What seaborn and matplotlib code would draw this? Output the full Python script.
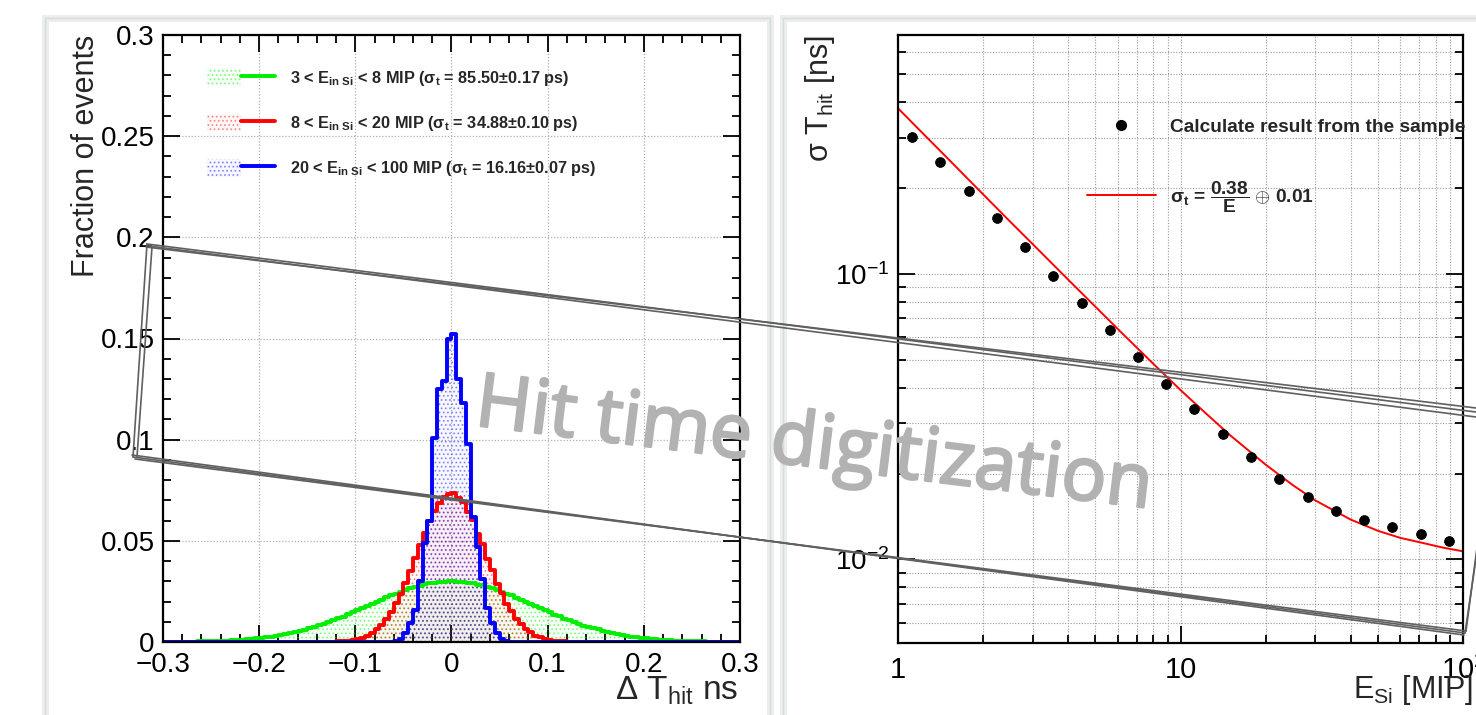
import numpy as np
import pandas as pd
import matplotlib
matplotlib.use("Agg")
import matplotlib.pyplot as plt
import matplotlib.patheffects as pe
import seaborn as sns
from matplotlib.patches import Patch, Rectangle
from matplotlib.lines import Line2D
from matplotlib.legend_handler import HandlerTuple
from matplotlib.ticker import MultipleLocator, FixedLocator, FixedFormatter, LogLocator, NullFormatter

# ---------------- data ----------------
dt_range = (-0.3, 0.3)
dt_bin_width = 0.005

# fraction of events per 0.005 ns bin, left half from -0.2975 to -0.0025, right half from 0.0025 to 0.2975
green_neg = [0, 0, 0, 0.0001, 0.0001, 0.0002, 0.0002, 0.0003, 0.0003, 0.0004,
             0.00045, 0.0005, 0.0006, 0.0007, 0.0009, 0.0010, 0.0012, 0.0014, 0.0016, 0.0018,
             0.0021, 0.0024, 0.0027, 0.0031, 0.0035, 0.0039, 0.0044, 0.0049, 0.0055, 0.0061,
             0.0068, 0.0075, 0.0082, 0.0090, 0.0099, 0.0108, 0.0117, 0.0126, 0.0136, 0.0146,
             0.0157, 0.0167, 0.0178, 0.0188, 0.0199, 0.0209, 0.0220, 0.0230, 0.0239, 0.0248,
             0.0257, 0.0265, 0.0272, 0.0279, 0.0285, 0.0290, 0.0294, 0.0297, 0.0299, 0.0300]
green_pos = [0.0302, 0.0298, 0.0298, 0.0293, 0.0291, 0.0284, 0.0280, 0.0271, 0.0266, 0.0256,
             0.0249, 0.0238, 0.0231, 0.0219, 0.0210, 0.0198, 0.0189, 0.0177, 0.0168, 0.0156,
             0.0147, 0.0135, 0.0127, 0.0116, 0.0109, 0.0098, 0.0091, 0.0081, 0.0076, 0.0067,
             0.0062, 0.0054, 0.0050, 0.0043, 0.0040, 0.0034, 0.0031, 0.0027, 0.0024, 0.0021,
             0.0018, 0.0016, 0.0014, 0.0012, 0.0010, 0.0009, 0.0007, 0.0006, 0.0005, 0.00045,
             0.0004, 0.0003, 0.0003, 0.0002, 0.0002, 0.0001, 0.0001, 0, 0, 0]
red_neg = [0] * 34 + [0.0001, 0.0002, 0.0003, 0.0004, 0.0007, 0.0010, 0.0015, 0.0022, 0.0032, 0.0046,
                      0.0063, 0.0086, 0.0114, 0.0149, 0.0191, 0.0239, 0.0293, 0.0352, 0.0414, 0.0478,
                      0.0540, 0.0598, 0.0649, 0.0689, 0.0718, 0.0733]
red_pos = [0.0738, 0.0712, 0.0693, 0.0644, 0.0602, 0.0535, 0.0482, 0.0410, 0.0356, 0.0289,
           0.0242, 0.0188, 0.0151, 0.0112, 0.0088, 0.0062, 0.0047, 0.0031, 0.0023, 0.0015,
           0.0010, 0.0007, 0.0004, 0.0003, 0.0002, 0.0001] + [0] * 34
blue_neg = [0] * 47 + [0.0002, 0.0005, 0.0015, 0.0044, 0.0094, 0.0160, 0.0300, 0.0490,
                       0.0600, 0.1010, 0.1250, 0.1290, 0.1500]
blue_pos = [0.1520, 0.1300, 0.1180, 0.0980, 0.0620, 0.0470, 0.0310, 0.0170, 0.0095, 0.0045,
            0.0016, 0.0006, 0.0002] + [0] * 47

series_names = ["3 < E$_{\\mathbf{in\\ Si}}$ < 8 MIP (σ$_{\\mathbf{t}}$ = 85.50±0.17 ps)",
                "8 < E$_{\\mathbf{in\\ Si}}$ < 20 MIP (σ$_{\\mathbf{t}}$ = 34.88±0.10 ps)",
                "20 < E$_{\\mathbf{in\\ Si}}$ < 100 MIP (σ$_{\\mathbf{t}}$ = 16.16±0.07 ps)"]
series_colors = ["#00ee00", "#ff0000", "#0000ff"]

left_xticks = [-0.3, -0.2, -0.1, 0, 0.1, 0.2, 0.3]
left_xticklabels = ["\u22120.3", "\u22120.2", "\u22120.1", "0", "0.1", "0.2", "0.3"]
left_yticks = [0, 0.05, 0.1, 0.15, 0.2, 0.25, 0.3]
left_yticklabels = ["0", "0.05", "0.1", "0.15", "0.2", "0.25", "0.3"]

# right panel: time resolution vs deposited energy
energy_mip = [1.12, 1.41, 1.78, 2.24, 2.82, 3.55, 4.47, 5.62, 7.08, 8.91,
              11.2, 14.1, 17.8, 22.4, 28.2, 35.5, 44.7, 56.2, 70.8, 89.1]
sigma_t_ns = [0.301, 0.246, 0.195, 0.157, 0.124, 0.0984, 0.0792, 0.0637, 0.0513, 0.0412,
              0.0337, 0.0276, 0.0229, 0.0192, 0.0166, 0.0148, 0.0137, 0.0130, 0.0123, 0.0116]
fit_energy = [1, 1.25, 1.5, 2, 2.5, 3, 4, 5, 6, 7, 8, 10, 12, 15, 20, 25, 30, 40, 50, 60, 70, 85, 99]
fit_sigma = [0.380, 0.304, 0.2535, 0.190, 0.152, 0.127, 0.0955, 0.0767, 0.0641, 0.0552, 0.0485,
             0.0392, 0.0332, 0.0272, 0.0215, 0.0182, 0.0161, 0.0138, 0.0126, 0.0119, 0.0115,
             0.0110, 0.0107]
right_xticks = [1, 10, 100]
right_xticklabels = ["1", "10", "$10^{2}$"]

# ---------------- style ----------------
sns.set_theme(style="white")
plt.rcParams["font.family"] = ["Liberation Sans", "DejaVu Sans"]
plt.rcParams["mathtext.fontset"] = "custom"
plt.rcParams["mathtext.rm"] = "Liberation Sans"
plt.rcParams["mathtext.it"] = "Liberation Sans:italic"
plt.rcParams["mathtext.bf"] = "Liberation Sans:bold"
plt.rcParams["hatch.linewidth"] = 0.8

W, H = 1476, 715
fig = plt.figure(figsize=(W / 100, H / 100), dpi=100, facecolor="white")


def fx(px):
    return px / W


def fy(py):
    return 1 - py / H


# slide cards
for x0, x1 in [(45, 770), (783, 1482)]:
    fig.add_artist(Rectangle((fx(x0), -0.05), fx(x1) - fx(x0), fy(18) + 0.05,
                             transform=fig.transFigure, facecolor="white",
                             edgecolor="#eceeee", lw=5, zorder=-20))
    fig.add_artist(Rectangle((fx(x0), -0.05), fx(x1) - fx(x0), fy(18) + 0.05,
                             transform=fig.transFigure, facecolor="none",
                             edgecolor="#d6dada", lw=1.0, zorder=-19))

axL = fig.add_axes([fx(163), fy(642), fx(740) - fx(163), fy(35) - fy(642)])
axR = fig.add_axes([fx(898), fy(643), fx(1463) - fx(898), fy(35) - fy(643)])

# ---------------- left: histograms ----------------
n_bins = int(round((dt_range[1] - dt_range[0]) / dt_bin_width))
centers = dt_range[0] + dt_bin_width * (np.arange(n_bins) + 0.5)
hist_series = [green_neg + green_pos, red_neg + red_pos, blue_neg + blue_pos]

legend_handles = []
for vals, col, name in zip(hist_series, series_colors, series_names):
    df = pd.DataFrame({"dt": centers, "frac": vals})
    n0 = len(axL.collections)
    sns.histplot(data=df, x="dt", weights="frac", binwidth=dt_bin_width, binrange=dt_range,
                 element="step", fill=True, color=col, linewidth=0, ax=axL)
    rgb = matplotlib.colors.to_rgb(col)
    for coll in axL.collections[n0:]:
        coll.set_facecolor((*rgb, 0.03))
        coll.set_edgecolor((*rgb, 0.38))
        coll.set_hatch("....")
        coll.set_linewidth(0)
    sns.histplot(data=df, x="dt", weights="frac", binwidth=dt_bin_width, binrange=dt_range,
                 element="step", fill=False, color=col, linewidth=2.8, ax=axL)
    ph = Patch(facecolor=(*rgb, 0.03), edgecolor=(*rgb, 0.38), hatch="....", lw=0)
    lh = Line2D([], [], color=col, lw=2.8)
    legend_handles.append((ph, lh))

axL.set_xlim(*dt_range)
axL.set_ylim(0, 0.3)
axL.xaxis.set_major_locator(FixedLocator(left_xticks))
axL.xaxis.set_major_formatter(FixedFormatter(left_xticklabels))
axL.xaxis.set_minor_locator(MultipleLocator(0.02))
axL.yaxis.set_major_locator(FixedLocator(left_yticks))
axL.yaxis.set_major_formatter(FixedFormatter(left_yticklabels))
axL.yaxis.set_minor_locator(MultipleLocator(0.01))
axL.grid(True, which="major", color="#b0b0b0", linestyle=(0, (1, 1.5)), lw=0.9)
axL.set_axisbelow(True)
axL.set_ylabel("Fraction of events", fontsize=22, loc="top")
axL.set_xlabel("Δ T$_{\\rm hit}$ ns", fontsize=24, loc="right")
axL.yaxis.set_label_coords(-0.107, 1.0)
axL.xaxis.set_label_coords(0.997, -0.053)

leg = axL.legend(legend_handles, series_names, handler_map={tuple: HandlerTuple(ndivide=None)},
                 loc="upper left", bbox_to_anchor=(0.0763, 0.945), frameon=False,
                 borderpad=0, borderaxespad=0, handlelength=4.2, handleheight=1.3,
                 handletextpad=0.9, labelspacing=1.6, prop={"size": 11.7, "weight": "bold"})

# ---------------- right: resolution ----------------
sns.lineplot(x=fit_energy, y=fit_sigma, color="#ff0000", lw=1.4, ax=axR)
sns.scatterplot(x=energy_mip, y=sigma_t_ns, color="black", s=50, edgecolor="black", ax=axR, zorder=5)
axR.set_xscale("log")
axR.set_yscale("log")
axR.set_xlim(1, 100)
axR.set_ylim(0.0051, 0.686)
axR.xaxis.set_major_locator(FixedLocator(right_xticks))
axR.xaxis.set_major_formatter(FixedFormatter(right_xticklabels))
axR.xaxis.set_minor_locator(LogLocator(base=10, subs=np.arange(2, 10)))
axR.xaxis.set_minor_formatter(NullFormatter())
axR.yaxis.set_major_locator(LogLocator(base=10))
axR.yaxis.set_minor_locator(LogLocator(base=10, subs=np.arange(2, 10)))
axR.yaxis.set_minor_formatter(NullFormatter())
axR.grid(True, which="both", color="#9a9a9a", linestyle=(0, (1, 1.5)), lw=0.8)
axR.set_axisbelow(True)
axR.set_ylabel("σ T$_{\\rm hit}$ [ns]", fontsize=22, loc="top")
axR.set_xlabel("E$_{\\rm Si}$ [MIP]", fontsize=22, loc="right")
axR.yaxis.set_label_coords(-0.108, 1.0)
axR.xaxis.set_label_coords(1.018, -0.05)

rh = [Line2D([], [], marker="o", color="black", ls="none", markersize=7),
      Line2D([], [], color="#ff0000", lw=1.4)]
rl = ["Calculate result from the sample",
      "σ$_{\\mathbf{t}}$ = $\\dfrac{\\mathbf{0.38}}{\\mathbf{E}}$ $\\oplus$ 0.01"]
axR.legend(rh, rl, loc="upper left", bbox_to_anchor=(0.3345, 0.863), frameon=False,
           borderpad=0, borderaxespad=0, handlelength=3.6, handletextpad=0.73,
           labelspacing=2.25, prop={"size": 13.8, "weight": "bold"})

for ax, top in [(axL, True), (axR, False)]:
    ax.tick_params(which="both", direction="in", top=top, right=True, bottom=True, left=True,
                   width=1.3, colors="black")
    ax.tick_params(which="major", length=12, labelsize=20, pad=6)
    ax.tick_params(which="minor", length=6)
    for s in ax.spines.values():
        s.set_visible(True)
        s.set_color("black")
        s.set_linewidth(1.6)
axL.tick_params(axis="x", which="major", pad=7)
axR.tick_params(axis="y", which="major", labelsize=20)
axR.tick_params(axis="x", which="major", labelsize=21, pad=9)

# ---------------- slide decorations: watermark & sketched frame ----------------
fig.text(fx(814), fy(447), "Hit time digitization", fontsize=54, color="#b2b2b2",
         family="Open Sans", rotation=-7.0, ha="center", va="center", zorder=30,
         path_effects=[pe.withStroke(linewidth=1.8, foreground="#b2b2b2")])

sketch_lines = [
    [(147, 244), (1476, 412)], [(149, 246), (1476, 417)], [(146, 247), (1476, 408)],
    [(133, 457), (1465, 633)], [(135, 459), (1466, 631)], [(132, 455), (1464, 635)],
    [(147, 244), (133, 457)], [(152, 247), (137, 457)],
    [(1465, 633), (1478, 545)], [(1466, 631), (1478, 540)],
]
for pts in sketch_lines:
    xs = [fx(p[0]) for p in pts]
    ys = [fy(p[1]) for p in pts]
    fig.add_artist(Line2D(xs, ys, transform=fig.transFigure, color="#606060", lw=1.2, zorder=31))

fig.savefig("out.png", dpi=100, facecolor="white")
